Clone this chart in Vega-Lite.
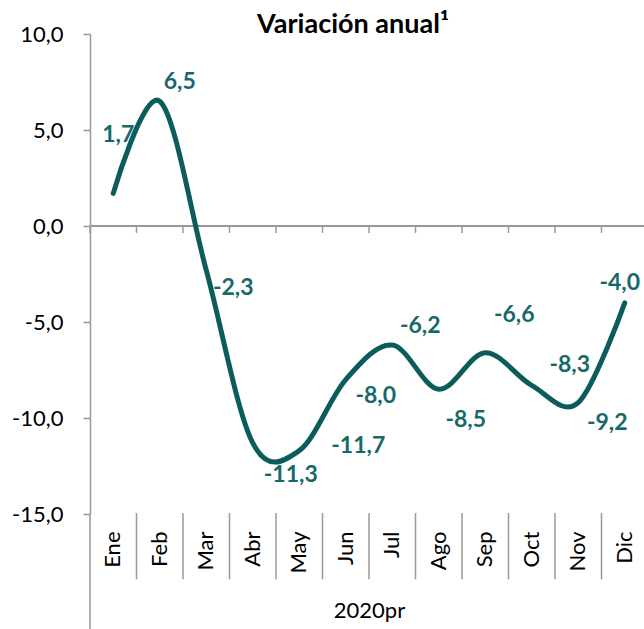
{
  "$schema": "https://vega.github.io/schema/vega-lite/v6.json",
  "width": 558,
  "height": 480,
  "autosize": "none",
  "padding": {"left": 90, "top": 34, "right": 0, "bottom": 115},
  "config": {
    "view": {"stroke": null},
    "font": "Lato",
    "locale": {"number": {"decimal": ",", "thousands": ".", "grouping": [3], "currency": ["", " €"], "minus": "-"}}
  },
  "title": {"text": "Variación anual¹", "font": "Lato", "fontSize": 27, "fontWeight": "bold", "color": "#000000", "anchor": "middle", "dx": -16, "dy": 20, "offset": 4},
  "data": {"values": [
    {"month": "Ene", "value": 1.7},
    {"month": "Feb", "value": 6.5},
    {"month": "Mar", "value": -2.3},
    {"month": "Abr", "value": -11.3},
    {"month": "May", "value": -11.7},
    {"month": "Jun", "value": -8.0},
    {"month": "Jul", "value": -6.2},
    {"month": "Ago", "value": -8.5},
    {"month": "Sep", "value": -6.6},
    {"month": "Oct", "value": -8.3},
    {"month": "Nov", "value": -9.2},
    {"month": "Dic", "value": -4.0}
  ]},
  "layer": [
    {
      "mark": {"type": "rule", "color": "#999999", "strokeWidth": 1.5},
      "encoding": {
        "y": {"datum": 0}
      }
    },
    {
      "mark": {"type": "rule", "color": "#999999", "strokeWidth": 1.5},
      "encoding": {
        "x": {"field": "month", "type": "ordinal", "sort": ["Ene","Feb","Mar","Abr","May","Jun","Jul","Ago","Sep","Oct","Nov","Dic"], "bandPosition": 0},
        "y": {"datum": 0},
        "y2": {"datum": -0.36}
      }
    },
    {
      "transform": [{"filter": "datum.month == 'Ene'"}],
      "mark": {"type": "rule", "color": "#999999", "strokeWidth": 1.5},
      "encoding": {
        "x": {"field": "month", "type": "ordinal", "sort": ["Ene","Feb","Mar","Abr","May","Jun","Jul","Ago","Sep","Oct","Nov","Dic"], "bandPosition": 0},
        "y": {"datum": -15},
        "y2": {"datum": -21}
      }
    },
    {
      "transform": [{"filter": "datum.month != 'Ene'"}],
      "mark": {"type": "rule", "color": "#999999", "strokeWidth": 1.5},
      "encoding": {
        "x": {"field": "month", "type": "ordinal", "sort": ["Ene","Feb","Mar","Abr","May","Jun","Jul","Ago","Sep","Oct","Nov","Dic"], "bandPosition": 0},
        "y": {"datum": -14.95},
        "y2": {"datum": -18.4}
      }
    },
    {
      "mark": {
        "type": "text", "font": "Lato", "fontSize": 23, "fontWeight": "bold", "color": "#16696a", "align": "center", "baseline": "middle",
        "dx": {"expr": "[5,20,27,38,59,30,28,27,29,38,29,-5][indexof(['Ene','Feb','Mar','Abr','May','Jun','Jul','Ago','Sep','Oct','Nov','Dic'], datum.month)]"},
        "dy": {"expr": "[-58,-19,18,32,-5,16,-19,31,-38,-20,20,-20][indexof(['Ene','Feb','Mar','Abr','May','Jun','Jul','Ago','Sep','Oct','Nov','Dic'], datum.month)]"}
      },
      "encoding": {
        "x": {"field": "month", "type": "ordinal", "sort": ["Ene","Feb","Mar","Abr","May","Jun","Jul","Ago","Sep","Oct","Nov","Dic"], "bandPosition": 0.5},
        "y": {"field": "value", "type": "quantitative"},
        "text": {"field": "value", "type": "quantitative", "format": ".1f"}
      }
    },
    {
      "mark": {"type": "line", "interpolate": "cardinal", "color": "#0d5c5c", "strokeWidth": 5, "strokeCap": "round"},
      "encoding": {
        "x": {"field": "month", "type": "ordinal", "sort": ["Ene","Feb","Mar","Abr","May","Jun","Jul","Ago","Sep","Oct","Nov","Dic"], "bandPosition": 0.5,
          "scale": {"type": "band", "paddingInner": 0, "paddingOuter": 0},
          "axis": {"orient": "bottom", "domain": false, "ticks": false, "grid": false, "labelAngle": -90, "labelAlign": "right", "labelBaseline": "middle", "labelPadding": 17, "labelFontSize": 22, "labelFont": "Lato", "labelColor": "#000000", "title": "2020pr", "titleFont": "Lato", "titleFontSize": 22, "titleFontWeight": "normal", "titleColor": "#000000", "titlePadding": 27}},
        "y": {"field": "value", "type": "quantitative",
          "scale": {"domain": [-15, 10], "nice": false, "zero": false},
          "axis": {"values": [-15, -10, -5, 0, 5, 10], "format": ".1f", "tickSize": 7, "tickWidth": 1.5, "tickColor": "#999999", "domainColor": "#999999", "domainWidth": 1.5, "labelFontSize": 22, "labelFont": "Lato", "labelColor": "#000000", "labelPadding": 20, "grid": false, "title": null}}
      }
    }
  ]
}
